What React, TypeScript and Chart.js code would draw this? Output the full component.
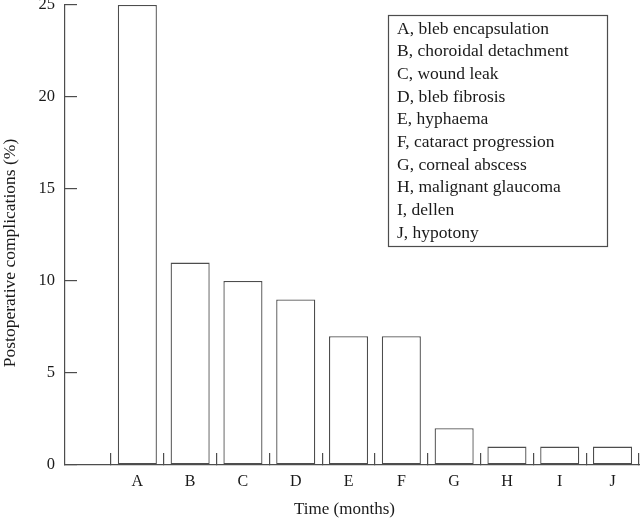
import React, { useEffect, useRef } from 'react';
import { Chart, registerables } from 'chart.js';

Chart.register(...registerables);

const categories = ['A', 'B', 'C', 'D', 'E', 'F', 'G', 'H', 'I', 'J'];
const complications = [25, 11, 10, 9, 7, 7, 2, 1, 1, 1];
const legendLabels = [
  'A, bleb encapsulation',
  'B, choroidal detachment',
  'C, wound leak',
  'D, bleb fibrosis',
  'E, hyphaema',
  'F, cataract progression',
  'G, corneal abscess',
  'H, malignant glaucoma',
  'I, dellen',
  'J, hypotony',
];
const yTickValues = [0, 5, 10, 15, 20, 25];
const xTitle = 'Time (months)';
const yTitle = 'Postoperative complications (%)';

const FONT = "'Liberation Serif', 'Times New Roman', Times, serif";
const INK = '#1a1a1a';
const LINE = '#4d4d4d';

const legendBoxPlugin = {
  id: 'legendBox',
  afterDraw(chart: any) {
    const { ctx, chartArea } = chart;
    const x = chartArea.right - 252;
    const y = chartArea.top + 10;
    const w = 219;
    const h = 231;
    ctx.save();
    ctx.strokeStyle = LINE;
    ctx.lineWidth = 1.2;
    ctx.strokeRect(x + 0.5, y + 0.5, w, h);
    ctx.font = `17.5px ${FONT}`;
    ctx.fillStyle = INK;
    ctx.textBaseline = 'alphabetic';
    ctx.textAlign = 'left';
    legendLabels.forEach((t, i) => {
      ctx.fillText(t, x + 9, y + 18.5 + i * 22.67);
    });
    ctx.restore();
  },
};

const axisTitlesPlugin = {
  id: 'axisTitles',
  afterDraw(chart: any) {
    const { ctx, chartArea } = chart;
    ctx.save();
    ctx.fillStyle = INK;
    ctx.font = `17px ${FONT}`;
    ctx.textAlign = 'center';
    ctx.textBaseline = 'middle';
    ctx.fillText(xTitle, (chartArea.left + chartArea.right) / 2 - 8, chartArea.bottom + 45);
    ctx.translate(10, (chartArea.top + chartArea.bottom) / 2 + 18);
    ctx.rotate(-Math.PI / 2);
    ctx.font = `17.5px ${FONT}`;
    ctx.fillText(yTitle, 0, 0);
    ctx.restore();
  },
};

export default function App() {
  const canvasRef = useRef<HTMLCanvasElement | null>(null);

  useEffect(() => {
    if (!canvasRef.current) return;
    const chart = new Chart(canvasRef.current, {
      type: 'bar',
      data: {
        datasets: [
          {
            data: categories.map((c, i) => ({ x: i + 1, y: complications[i] })),
            backgroundColor: '#ffffff',
            borderColor: LINE,
            borderWidth: 1.3,
            borderSkipped: false,
            barPercentage: 0.74,
            categoryPercentage: 1,
          },
        ],
      },
      options: {
        responsive: false,
        animation: false,
        layout: { padding: { top: 5, right: 0, bottom: 0, left: 0 } },
        plugins: {
          legend: { display: false },
          tooltip: { enabled: false },
        },
        scales: {
          x: {
            type: 'linear',
            offset: false,
            min: -0.37,
            max: 10.52,
            afterBuildTicks: (s: any) => {
              s.ticks = categories.map((_, i) => ({ value: i + 1 }));
            },
            afterFit: (s: any) => {
              s.height = 55;
              s.paddingLeft = 0;
              s.paddingRight = 0;
            },
            ticks: {
              callback: (_v: any, i: number) => categories[i],
              font: { family: FONT, size: 16 },
              color: INK,
              padding: 19,
              autoSkip: false,
              maxRotation: 0,
            },
            grid: {
              offset: true,
              drawOnChartArea: false,
              tickLength: -12,
              color: LINE,
              lineWidth: 1.2,
            },
            border: { color: LINE, width: 1.2 },
            title: { display: false, text: xTitle },
          },
          y: {
            min: 0,
            max: 25,
            afterBuildTicks: (s: any) => {
              s.ticks = yTickValues.map((v) => ({ value: v }));
            },
            afterFit: (s: any) => {
              s.width = 65;
              s.paddingTop = 0;
              s.paddingBottom = 0;
            },
            ticks: {
              font: { family: FONT, size: 16.5 },
              color: INK,
              padding: 22,
            },
            grid: {
              drawOnChartArea: false,
              tickLength: -12,
              color: LINE,
              lineWidth: 1.2,
            },
            border: { color: LINE, width: 1.2 },
            title: { display: false, text: yTitle },
          },
        },
      } as any,
      plugins: [legendBoxPlugin, axisTitlesPlugin],
    });
    return () => chart.destroy();
  }, []);

  return (
    <div style={{ position: 'absolute', left: 0, top: 0, width: 640, height: 520, background: '#fff' }}>
      <canvas ref={canvasRef} width={640} height={520} style={{ display: 'block' }} />
    </div>
  );
}
